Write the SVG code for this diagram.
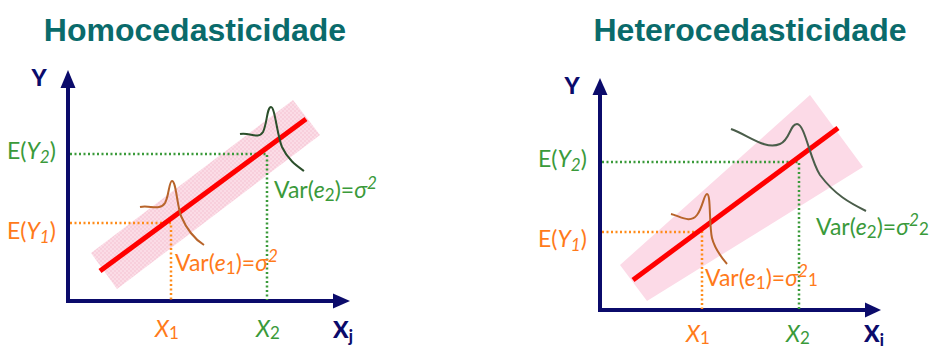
<svg xmlns="http://www.w3.org/2000/svg" width="931" height="349" viewBox="0 0 931 349">
<style>
.title{font-family:"Liberation Sans",Arial,sans-serif;font-weight:bold;font-size:32px;fill:#0A6B6B;text-anchor:middle}
.lbl{font-family:Lato,"Liberation Sans",sans-serif;font-size:23px}
.ax{font-family:Lato,"Liberation Sans",sans-serif;font-weight:900;font-size:23px;fill:#0B0B6B}
.g{fill:#3A9A3A}
.o{fill:#FF7A1A}
.it{font-style:italic}
.axis{stroke:#0B0B6B;stroke-width:4;fill:none}
.arrow{fill:#0B0B6B}
.reg{stroke:#FF0000;stroke-width:5;stroke-linecap:butt}
.dg{stroke:#3A9A3A;stroke-width:2.5;stroke-dasharray:2 2.5;fill:none}
.do{stroke:#FF8C1A;stroke-width:2.5;stroke-dasharray:2 2.5;fill:none}
.co{stroke:#B8642A;stroke-width:2;fill:none}
.cg{stroke:#2B4F2B;stroke-width:2;fill:none}
</style>
<defs>
<pattern id="dots" width="4" height="4" patternUnits="userSpaceOnUse">
<rect width="4" height="4" fill="#FBDCE6"/>
<circle cx="1" cy="1" r="0.8" fill="#F6C0D1"/>
<circle cx="3" cy="3" r="0.8" fill="#F6C0D1"/>
</pattern>
</defs>
<rect width="931" height="349" fill="#FFFFFF"/>

<g id="title-homo"><text class="title" x="195" y="41">Homocedasticidade</text></g>
<g id="title-hetero"><text class="title" x="750" y="41">Heterocedasticidade</text></g>

<g id="left-panel">
<g id="left-band"><polygon points="91,253 117,289 320,135 293,100" fill="url(#dots)"/></g>
<g id="left-axes">
<line class="axis" x1="68" y1="84" x2="68" y2="303"/>
<line class="axis" x1="66" y1="301" x2="337" y2="301"/>
<polygon class="arrow" points="68,70 60.5,88 75.5,88"/>
<polygon class="arrow" points="350,301 333,293.5 333,308.5"/>
<text class="ax" x="39" y="86" text-anchor="middle">Y</text>
<text class="ax" x="333" y="338">X<tspan font-size="16" dy="4">j</tspan></text>
</g>
<g id="left-guides">
<polyline class="dg" points="70,154 267,154 267,300"/>
<polyline class="do" points="70,223 171,223 171,300"/>
</g>
<g id="left-regression"><line class="reg" x1="100" y1="271" x2="306" y2="119"/></g>
<g id="left-curve1"><path class="co" d="M140,207 C150,205 160,211 165,203 C169,196 169,181 172,181 C176,181 177,205 181,216 C187,230 196,240 204,245"/></g>
<g id="left-curve2"><path class="cg" d="M240,134 C250,132 258,140 263,132 C267,124 267,107 271,107 C275,107 277,135 282,147 C288,160 297,166 304,171"/></g>
<g id="left-labels">
<text class="lbl g" x="7" y="159">E(<tspan class="it">Y</tspan><tspan class="it" font-size="17" dy="4">2</tspan><tspan dy="-4">)</tspan></text>
<text class="lbl o" x="7" y="239">E(<tspan class="it">Y</tspan><tspan class="it" font-size="17" dy="4">1</tspan><tspan dy="-4">)</tspan></text>
<text class="lbl o" x="155" y="337"><tspan class="it">X</tspan><tspan font-size="17" dy="2">1</tspan></text>
<text class="lbl g" x="256" y="337"><tspan class="it">X</tspan><tspan font-size="17" dy="2">2</tspan></text>
<text class="lbl o" x="175" y="271">Var(<tspan class="it">e</tspan><tspan font-size="17" dy="3">1</tspan><tspan dy="-3">)=</tspan><tspan class="it">σ</tspan><tspan class="it" font-size="17" dy="-9">2</tspan></text>
<text class="lbl g" x="274" y="198">Var(<tspan class="it">e</tspan><tspan font-size="17" dy="3">2</tspan><tspan dy="-3">)=</tspan><tspan class="it">σ</tspan><tspan class="it" font-size="17" dy="-9">2</tspan></text>
</g>
</g>

<g id="right-panel">
<g id="right-band"><polygon points="620,265 647,301 863,167 810,95" fill="#FCDAE7"/></g>
<g id="right-axes">
<line class="axis" x1="600" y1="92" x2="600" y2="312"/>
<line class="axis" x1="598" y1="310" x2="868" y2="310"/>
<polygon class="arrow" points="600,78 592.5,95 607.5,95"/>
<polygon class="arrow" points="881,310 865,302.5 865,317.5"/>
<text class="ax" x="572" y="94" text-anchor="middle">Y</text>
<text class="ax" x="864" y="342">X<tspan font-size="16" dy="4">i</tspan></text>
</g>
<g id="right-guides">
<polyline class="dg" points="602,162 799,162 799,309"/>
<polyline class="do" points="602,232 702,232 702,309"/>
</g>
<g id="right-regression"><line class="reg" x1="633" y1="280" x2="838" y2="128"/></g>
<g id="right-curve1"><path class="co" d="M671,214 C680,216 690,224 697,215 C703,207 704,194 707,194 C711,194 709,225 712,238 C715,250 722,258 727,264"/></g>
<g id="right-curve2"><path class="cg" style="stroke:#4A5D4A" d="M731,129 C750,136 765,150 780,144 C790,140 790,124 797,124 C805,124 810,160 820,175 C835,195 850,203 866,211"/></g>
<g id="right-labels">
<text class="lbl g" x="538" y="167">E(<tspan class="it">Y</tspan><tspan class="it" font-size="17" dy="4">2</tspan><tspan dy="-4">)</tspan></text>
<text class="lbl o" x="538" y="247">E(<tspan class="it">Y</tspan><tspan class="it" font-size="17" dy="4">1</tspan><tspan dy="-4">)</tspan></text>
<text class="lbl o" x="686" y="342"><tspan class="it">X</tspan><tspan font-size="17" dy="2">1</tspan></text>
<text class="lbl g" x="786" y="342"><tspan class="it">X</tspan><tspan font-size="17" dy="2">2</tspan></text>
<text class="lbl o" x="705" y="286">Var(<tspan class="it">e</tspan><tspan font-size="17" dy="3">1</tspan><tspan dy="-3">)=</tspan><tspan class="it">σ</tspan><tspan class="it" font-size="17" dy="-9">2</tspan><tspan font-size="17" dy="9">1</tspan></text>
<text class="lbl g" x="816" y="235">Var(<tspan class="it">e</tspan><tspan font-size="17" dy="3">2</tspan><tspan dy="-3">)=</tspan><tspan class="it">σ</tspan><tspan class="it" font-size="17" dy="-9">2</tspan><tspan font-size="17" dy="9">2</tspan></text>
</g>
</g>
</svg>
